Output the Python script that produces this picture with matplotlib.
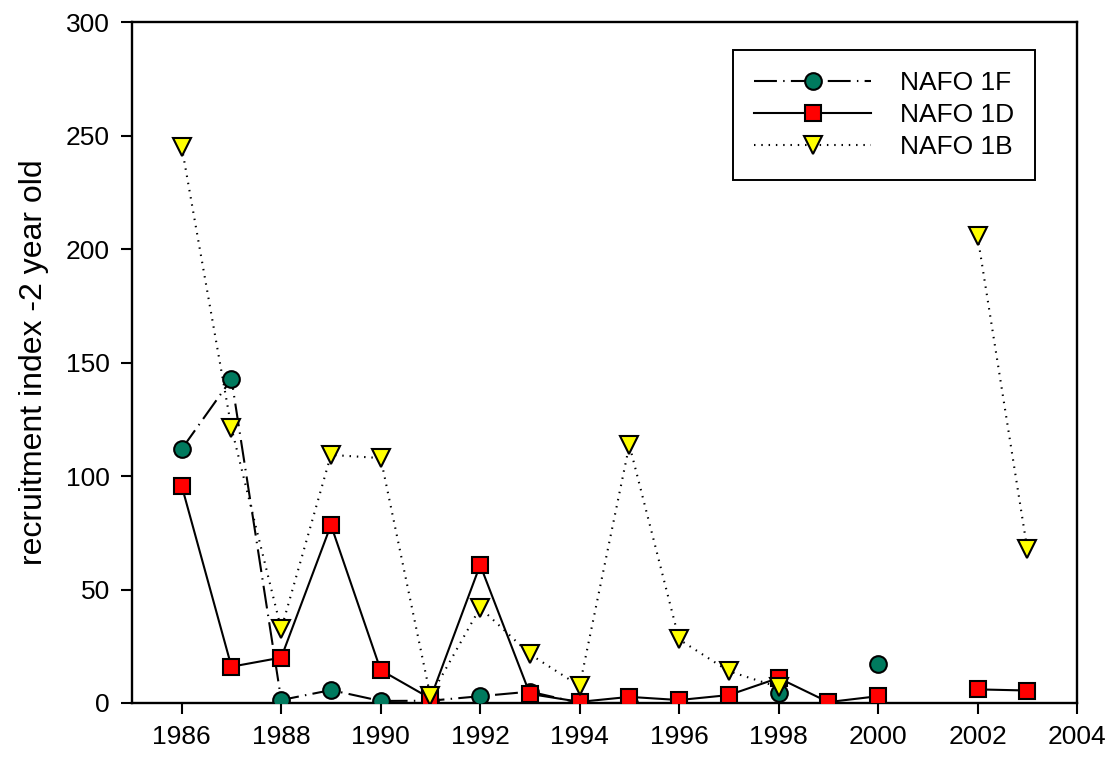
import numpy as np
import matplotlib
matplotlib.use("Agg")
import matplotlib.pyplot as plt

plt.rcParams['font.family'] = ['Liberation Sans', 'DejaVu Sans']

nan = np.nan
years = list(range(1986, 2004))
nafo_1f = [111.9, 142.7, 1.3, 5.7, 0.9, 1.0, 3.0, 5.0, 0.0, 0.0, nan, nan, 4.4, nan, 17.0, nan, nan, nan]
nafo_1d = [95.6, 16.0, 20.0, 78.4, 14.5, 2.0, 60.8, 4.0, 0.5, 2.7, 1.3, 3.5, 11.0, 0.4, 3.0, nan, 6.0, 5.5]
nafo_1b = [245.0, 121.1, 32.5, 109.3, 107.9, 3.0, 42.0, 21.5, 7.5, 113.7, 28.0, 14.0, 7.0, nan, nan, nan, 205.7, 67.8]

labels = ["NAFO 1F", "NAFO 1D", "NAFO 1B"]
x_ticks = list(range(1986, 2005, 2))
y_ticks = [0, 50, 100, 150, 200, 250, 300]

fig = plt.figure(figsize=(11.15, 7.6), dpi=100)
ax = fig.add_axes([132 / 1115, 1 - 703 / 760, (1077 - 132) / 1115, (703 - 22) / 760])

ax.plot(years, nafo_1f, color='black', lw=1.5, dashes=[11, 3, 0.7, 3],
        marker='o', ms=12, mfc='#007A5E', mec='black', mew=1.5, label=labels[0], zorder=3)
ax.plot(years, nafo_1d, color='black', lw=1.5, linestyle='-',
        marker='s', ms=11, mfc='#FF0000', mec='black', mew=1.5, label=labels[1], zorder=4)
ax.plot(years, nafo_1b, color='black', lw=1.5, dashes=[0.7, 2.8],
        marker='v', ms=13, mfc='#FFFF00', mec='black', mew=1.5, label=labels[2], zorder=5)

ax.set_xlim(1985, 2004)
ax.set_ylim(0, 300)
ax.set_xticks(x_ticks)
ax.set_yticks(y_ticks)
ax.tick_params(direction='out', length=8, width=1.5, labelsize=19, pad=8)
for s in ax.spines.values():
    s.set_linewidth(1.7)

ax.set_ylabel("recruitment index -2 year old", fontsize=23, labelpad=12)

leg = ax.legend(loc='upper left', bbox_to_anchor=(733 / 1115, 1 - 50 / 760),
                bbox_transform=fig.transFigure, fontsize=19, numpoints=1,
                handlelength=4.43, handletextpad=1.1, labelspacing=0.3,
                borderpad=0.8, borderaxespad=0, fancybox=False, framealpha=1)
leg.get_frame().set_edgecolor('black')
leg.get_frame().set_linewidth(1.4)

fig.savefig("out.png", dpi=100)
